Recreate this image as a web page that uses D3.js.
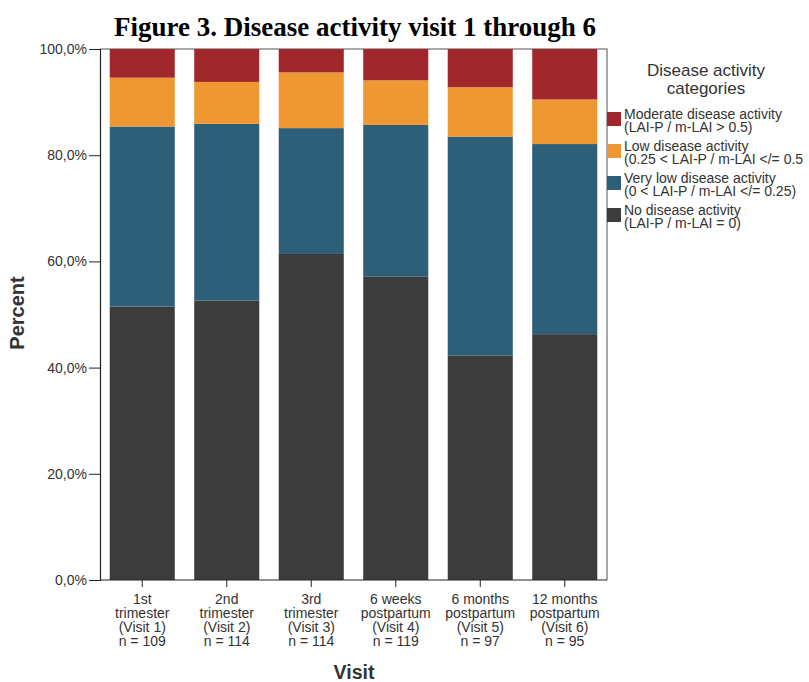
<!DOCTYPE html>
<html>
<head>
<meta charset="utf-8">
<script src="https://cdn.jsdelivr.net/npm/d3@7"></script>
<style>
  body { margin: 0; background: #fff; }
  text { font-family: "Liberation Sans", Arial, sans-serif; }
</style>
</head>
<body>
<div id="chart"></div>
<script>
// visits (x categories), each label split into lines
let visits = [
    ["1st", "trimester", "(Visit 1)", "n = 109"],
    ["2nd", "trimester", "(Visit 2)", "n = 114"],
    ["3rd", "trimester", "(Visit 3)", "n = 114"],
    ["6 weeks", "postpartum", "(Visit 4)", "n = 119"],
    ["6 months", "postpartum", "(Visit 5)", "n = 97"],
    ["12 months", "postpartum", "(Visit 6)", "n = 95"]
];

// percent per visit, stacked bottom to top
let noActivity       = [51.5, 52.6, 61.4, 57.1, 42.3, 46.3];
let veryLowActivity  = [33.9, 33.3, 23.7, 28.6, 41.2, 35.8];
let lowActivity      = [ 9.2,  7.9, 10.5,  8.4,  9.3,  8.4];
let moderateActivity = [ 5.4,  6.2,  4.4,  5.9,  7.2,  9.5];

let yTicks = [0, 20, 40, 60, 80, 100];

let legendLabels = [
    ["Moderate disease activity", "(LAI-P / m-LAI > 0.5)"],
    ["Low disease activity", "(0.25 < LAI-P / m-LAI </= 0.5"],
    ["Very low disease activity", "(0 < LAI-P / m-LAI </= 0.25)"],
    ["No disease activity", "(LAI-P / m-LAI = 0)"]
];

let colors = {
    none: "#3c3c3c",
    veryLow: "#2e5f78",
    low: "#ef9833",
    moderate: "#a0282c"
};

let keys = ["none", "veryLow", "low", "moderate"];
let table = visits.map((v, i) => ({
    visit: "v" + i,
    none: noActivity[i],
    veryLow: veryLowActivity[i],
    low: lowActivity[i],
    moderate: moderateActivity[i]
}));

let width = 809, height = 682;
let margin = {top: 49, right: 202, bottom: 102, left: 100};
let plotW = width - margin.left - margin.right;
let plotH = height - margin.top - margin.bottom;

let svg = d3.select("#chart")
    .append("svg")
    .attr("width", width)
    .attr("height", height);

// title
svg.append("text")
    .attr("x", 355)
    .attr("y", 36)
    .attr("text-anchor", "middle")
    .style("font-family", "'Liberation Serif', 'Times New Roman', serif")
    .style("font-weight", "bold")
    .style("font-size", "27px")
    .text("Figure 3. Disease activity visit 1 through 6");

let g = svg.append("g")
    .attr("transform", "translate(" + margin.left + "," + margin.top + ")");

let x = d3.scaleBand()
    .domain(table.map(d => d.visit))
    .range([0, plotW])
    .paddingInner(0.23)
    .paddingOuter(0.115);

let y = d3.scaleLinear()
    .domain([0, 100])
    .range([plotH, 0]);

let stacked = d3.stack().keys(keys)(table);

// frame (top and right)
g.append("path")
    .attr("d", "M0,0H" + plotW + "V" + plotH)
    .attr("fill", "none")
    .attr("stroke", "#8c8c8c")
    .attr("stroke-width", 1.5);

g.selectAll(".layer")
    .data(stacked)
    .enter()
    .append("g")
    .attr("fill", d => colors[d.key])
    .selectAll("rect")
    .data(d => d)
    .enter()
    .append("rect")
    .attr("x", d => x(d.data.visit))
    .attr("y", d => y(d[1]))
    .attr("width", x.bandwidth())
    .attr("height", d => y(d[0]) - y(d[1]));

// y axis
let yAxis = g.append("g")
    .call(d3.axisLeft(y)
        .tickValues(yTicks)
        .tickSize(11)
        .tickFormat(d => d.toFixed(1).replace(".", ",") + "%"));
yAxis.selectAll("text")
    .attr("fill", "#333")
    .style("font-size", "14px")
    .attr("dx", "1px");
yAxis.selectAll("line").attr("stroke", "#222");
yAxis.select(".domain").attr("stroke", "#222").attr("stroke-width", 1.2);

// x axis
let xAxis = g.append("g")
    .attr("transform", "translate(0," + plotH + ")")
    .call(d3.axisBottom(x).tickSize(7).tickFormat(""));
xAxis.select(".domain").attr("d", "M0,0H" + plotW).attr("stroke", "#222").attr("stroke-width", 1.2);
xAxis.selectAll("line").attr("stroke", "#222");

let labels = g.append("g")
    .selectAll("text")
    .data(visits)
    .enter()
    .append("text")
    .attr("x", (d, i) => x("v" + i) + x.bandwidth() / 2)
    .attr("text-anchor", "middle")
    .attr("fill", "#333")
    .style("font-size", "14px");
labels.selectAll("tspan")
    .data(d => d)
    .enter()
    .append("tspan")
    .attr("x", function() { return this.parentNode.getAttribute("x"); })
    .attr("y", (d, i) => plotH + 24 + i * 14)
    .text(d => d);

// axis titles
svg.append("text")
    .attr("x", 354)
    .attr("y", 679)
    .attr("text-anchor", "middle")
    .style("font-weight", "bold")
    .style("font-size", "19.5px")
    .attr("fill", "#333")
    .text("Visit");

svg.append("text")
    .attr("transform", "translate(24,313) rotate(-90)")
    .attr("text-anchor", "middle")
    .style("font-weight", "bold")
    .style("font-size", "20px")
    .attr("fill", "#333")
    .text("Percent");

// legend
let legend = svg.append("g");
legend.append("text")
    .attr("x", 706)
    .attr("y", 76)
    .attr("text-anchor", "middle")
    .attr("fill", "#333")
    .style("font-size", "17px")
    .text("Disease activity");
legend.append("text")
    .attr("x", 706)
    .attr("y", 94)
    .attr("text-anchor", "middle")
    .attr("fill", "#333")
    .style("font-size", "17px")
    .text("categories");

let legendKeys = ["moderate", "low", "veryLow", "none"];
let item = legend.selectAll(".item")
    .data(legendKeys)
    .enter()
    .append("g")
    .attr("transform", (d, i) => "translate(607," + (112 + i * 32) + ")");
item.append("rect")
    .attr("width", 14)
    .attr("height", 14)
    .attr("fill", d => colors[d]);
item.append("text")
    .attr("x", 17)
    .attr("y", 7)
    .attr("fill", "#333")
    .style("font-size", "14px")
    .text((d, i) => legendLabels[i][0]);
item.append("text")
    .attr("x", 17)
    .attr("y", 20)
    .attr("fill", "#333")
    .style("font-size", "14px")
    .text((d, i) => legendLabels[i][1]);
</script>
</body>
</html>
